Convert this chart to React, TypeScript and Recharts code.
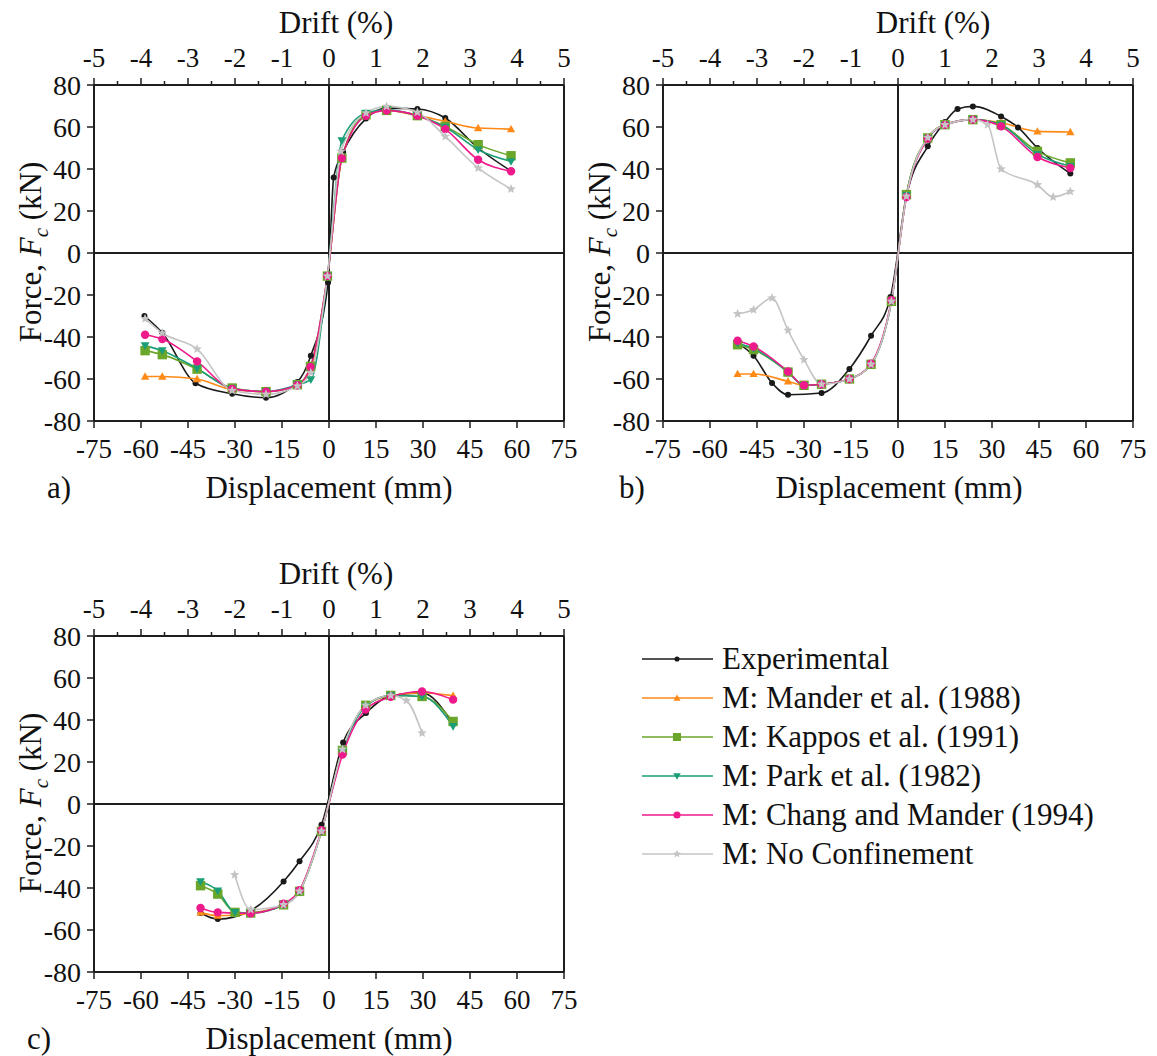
import React from 'react'
import { LineChart, Line, XAxis, YAxis, ReferenceLine } from 'recharts'

type Pt = [number, number]

// displacement (mm), force (kN)

// a)
const aExperimental: Pt[] = [[-58.9, -30], [-53.2, -38], [-42.6, -62], [-30.9, -67], [-20.1, -68.9], [-10.1, -61.4], [-5.8, -48.9], [-0.3, -14], [1.5, 36], [4.5, 48], [11.8, 64], [18.4, 69], [28.2, 68.6], [37.1, 64.3], [47.6, 50], [58.1, 39]]
const aMander: Pt[] = [[-58.7, -58.8], [-53.2, -58.8], [-42.1, -60], [-30.9, -65], [-20.1, -66], [-10.1, -63], [-5.8, -55], [-0.5, -11], [4.1, 45.2], [11.8, 65.8], [18.4, 67.9], [28.2, 65.4], [37.1, 62.7], [47.6, 59.5], [58.1, 59]]
const aKappos: Pt[] = [[-58.7, -46.5], [-53.2, -48.4], [-42.1, -55.3], [-30.9, -64.3], [-20.1, -66], [-10.1, -62.7], [-5.9, -54], [-0.5, -11], [4.1, 45.2], [11.8, 65.8], [18.4, 67.9], [28.2, 65.4], [37.1, 60.3], [47.6, 51.6], [58.1, 46.3]]
const aPark: Pt[] = [[-58.7, -44.1], [-53.2, -46.5], [-42.1, -55], [-30.9, -64.5], [-20.1, -66], [-10.1, -62.7], [-5.8, -60.3], [-0.5, -11], [4.1, 53.5], [11.8, 66.7], [18.4, 68.2], [28.2, 65.4], [37.1, 60], [47.6, 49.2], [58.1, 43.6]]
const aChang: Pt[] = [[-58.7, -38.9], [-53.2, -41], [-42.1, -51.6], [-30.9, -64.7], [-20.1, -66], [-10.1, -63], [-5.9, -54.3], [-0.5, -11], [4.1, 45.2], [11.8, 65.3], [18.4, 67.8], [28.2, 65.4], [37.1, 59], [47.6, 44.4], [58.1, 38.9]]
const aNoConf: Pt[] = [[-58.7, -31.3], [-53.2, -38.1], [-42.1, -45.7], [-30.9, -65.5], [-20.1, -67.3], [-10.1, -63.3], [-5.8, -57], [-0.5, -11], [3.8, 48.4], [11.8, 66.7], [18.4, 69.8], [28.2, 67], [37.1, 55.5], [47.6, 40.5], [58.1, 30.5]]

// b)
const bExperimental: Pt[] = [[-51.2, -42.9], [-46.1, -48.9], [-40.2, -61.9], [-35.1, -67.5], [-24.4, -66.7], [-15.5, -55.2], [-8.6, -39.4], [-2.4, -21], [2.7, 27], [9.5, 50.8], [15, 62.4], [19, 68.6], [23.9, 69.8], [32.9, 65], [38.3, 59.8], [44.5, 50], [55, 37.8]]
const bMander: Pt[] = [[-51.2, -57.6], [-46.1, -57.6], [-35.1, -61.1], [-30, -63], [-24.4, -62.5], [-15.5, -60], [-8.6, -52.7], [-2.1, -23], [2.7, 27.8], [9.5, 54.8], [15, 61.1], [23.9, 63.5], [32.9, 62], [44.5, 57.9], [55, 57.6]]
const bKappos: Pt[] = [[-51.2, -43.7], [-46.1, -46], [-35.1, -56.7], [-30, -63], [-24.4, -62.5], [-15.5, -60], [-8.6, -53], [-2.1, -23], [2.7, 27.8], [9.5, 54.8], [15, 61.1], [23.9, 63.5], [32.9, 61.1], [44.5, 48.4], [55, 42.9]]
const bPark: Pt[] = [[-51.2, -43], [-46.1, -45.5], [-35.1, -56.7], [-30, -63], [-24.4, -62.5], [-15.5, -60], [-8.6, -53], [-2.1, -23], [2.7, 27.5], [9.5, 54.6], [15, 61], [23.9, 63.5], [32.9, 61], [44.5, 47], [55, 41.3]]
const bChang: Pt[] = [[-51.2, -41.8], [-46.1, -44.5], [-35.1, -56.4], [-30, -63], [-24.4, -62.5], [-15.5, -60], [-8.6, -52.7], [-2.1, -22.5], [2.7, 26.7], [9.5, 54.5], [15, 61], [23.9, 63.5], [32.9, 60.3], [44.5, 45.7], [55, 40.5]]
const bNoConf: Pt[] = [[-51.2, -29], [-46.1, -27], [-40.2, -21.4], [-35.1, -36.8], [-30, -50.8], [-24.4, -62.5], [-15.5, -60], [-8.6, -53], [-2.1, -23], [2.7, 27], [9.5, 55], [15, 61], [23.9, 63.5], [28.6, 61.1], [32.9, 40], [44.5, 32.5], [49.5, 26.7], [55, 29.3]]

// c)
const cExperimental: Pt[] = [[-41, -51.9], [-35.5, -54.8], [-25, -50.7], [-14.5, -36.9], [-9.4, -27.3], [-2.4, -9.9], [4.5, 29.3], [11.8, 43.3], [19.7, 51.5], [29.7, 52.9], [39.4, 38.6]]
const cMander: Pt[] = [[-41, -51.6], [-35.5, -53.2], [-25, -52], [-14.5, -48], [-9.4, -41.6], [-2.4, -13], [4.3, 25.5], [11.7, 47], [19.7, 51.7], [29.7, 53], [39.6, 51.6]]
const cKappos: Pt[] = [[-41, -38.9], [-35.5, -42.9], [-30, -51.6], [-25, -51.9], [-14.5, -48], [-9.4, -41.6], [-2.4, -13], [4.3, 25.5], [11.7, 47], [19.7, 51.7], [29.7, 51.2], [39.6, 39.3]]
const cPark: Pt[] = [[-41, -36.9], [-35.5, -41.3], [-30, -51.6], [-25, -51.9], [-14.5, -48], [-9.4, -41.6], [-2.4, -13], [4.3, 25], [11.7, 46.5], [19.7, 51.7], [29.7, 51.2], [39.6, 37]]
const cChang: Pt[] = [[-41, -49.5], [-35.5, -51.6], [-25, -52], [-14.5, -47.5], [-9.4, -41], [-2.4, -12.5], [4.3, 23.5], [11.7, 45], [19.7, 51], [29.7, 53.6], [39.6, 49.7]]
const cNoConf: Pt[] = [[-30.1, -33.7], [-25, -50.3], [-14.5, -48], [-9.4, -41.6], [-2.4, -13], [4.3, 26], [11.7, 47], [19.7, 51.7], [24.7, 49.3], [29.7, 33.8]]

const DISP_TICKS = [-75, -60, -45, -30, -15, 0, 15, 30, 45, 60, 75]
const DRIFT_TICKS = [-5, -4.5, -4, -3.5, -3, -2.5, -2, -1.5, -1, -0.5, 0, 0.5, 1, 1.5, 2, 2.5, 3, 3.5, 4, 4.5, 5]
const FORCE_TICKS = [-80, -60, -40, -20, 0, 20, 40, 60, 80]
const MM_PER_DRIFT = 15 // 1 % drift = 15 mm

const SERIES_NAMES = [
  'Experimental',
  'M: Mander et al. (1988)',
  'M: Kappos et al. (1991)',
  'M: Park et al. (1982)',
  'M: Chang and Mander (1994)',
  'M: No Confinement',
]

const COLORS = ['#1a1a1a', '#ff8a18', '#6aa62a', '#1b9e77', '#ee1a8c', '#c4c4c4']
const SHAPES = ['dot', 'tri', 'square', 'triDown', 'hex', 'star']

const INK = '#1e1e1e'
const FONT = "'Liberation Serif', 'Times New Roman', serif"
const TXT = { fontFamily: FONT, fill: '#111' }
const PLOT_TOP = 85

function Marker({ shape, cx, cy, color, s = 1 }: { shape: string; cx: number; cy: number; color: string; s?: number }) {
  if (cx == null || cy == null) return null
  switch (shape) {
    case 'dot':
      return <circle cx={cx} cy={cy} r={3 * s} fill={color} />
    case 'tri': {
      const h = 4.2 * s
      return <polygon points={`${cx},${cy - h} ${cx - h},${cy + h * 0.75} ${cx + h},${cy + h * 0.75}`} fill={color} />
    }
    case 'triDown': {
      const h = 4.4 * s
      return <polygon points={`${cx},${cy + h} ${cx - h},${cy - h * 0.75} ${cx + h},${cy - h * 0.75}`} fill={color} />
    }
    case 'square':
      return <rect x={cx - 4.7 * s} y={cy - 4.7 * s} width={9.4 * s} height={9.4 * s} fill={color} />
    case 'hex':
      return <circle cx={cx} cy={cy} r={4.2 * s} fill={color} />
    case 'star': {
      const pts: string[] = []
      for (let i = 0; i < 10; i++) {
        const r = (i % 2 === 0 ? 5 : 2.2) * s
        const a = -Math.PI / 2 + (i * Math.PI) / 5
        pts.push(`${cx + r * Math.cos(a)},${cy + r * Math.sin(a)}`)
      }
      return <polygon points={pts.join(' ')} fill={color} />
    }
    default:
      return null
  }
}

const DriftTick = (props: any) => {
  const { x, payload } = props
  const v = payload.value
  const major = Number.isInteger(v)
  return (
    <g>
      <line x1={x} x2={x} y1={PLOT_TOP} y2={PLOT_TOP - (major ? 7 : 4)} stroke={INK} strokeWidth={1.5} />
      {major && (
        <text x={x} y={PLOT_TOP - 27} dy="0.35em" textAnchor="middle" fontSize={27} style={TXT}>
          {v}
        </text>
      )}
    </g>
  )
}

const DispTick = (props: any) => (
  <text x={props.x} y={props.y} dy="0.71em" textAnchor="middle" fontSize={27} style={TXT}>
    {props.payload.value}
  </text>
)

const ForceTick = (props: any) => (
  <text x={props.x} y={props.y} dy="0.35em" textAnchor="end" fontSize={28} style={TXT}>
    {props.payload.value}
  </text>
)

function Panel({ left, top, series }: { left: number; top: number; series: Pt[][] }) {
  // experimental curve expressed in drift, only to give the top axis a series of its own
  const driftData = series[0].map(([x, y]) => ({ d: x / MM_PER_DRIFT, y }))
  return (
    <div style={{ position: 'absolute', left, top }}>
      <LineChart width={580} height={480} margin={{ top: 40, right: 16, bottom: 9, left: 34 }}>
        <XAxis
          xAxisId="drift"
          dataKey="d"
          orientation="top"
          type="number"
          domain={[-5, 5]}
          allowDataOverflow
          ticks={DRIFT_TICKS}
          interval={0}
          height={45}
          axisLine={{ stroke: INK, strokeWidth: 2 }}
          tickLine={false}
          tick={(p: any) => <DriftTick {...p} />}
        />
        <XAxis
          xAxisId="disp"
          dataKey="x"
          type="number"
          domain={[-75, 75]}
          allowDataOverflow
          ticks={DISP_TICKS}
          interval={0}
          height={50}
          tickSize={7}
          tickMargin={11}
          axisLine={{ stroke: INK, strokeWidth: 2 }}
          tickLine={{ stroke: INK, strokeWidth: 1.5 }}
          tick={(p: any) => <DispTick {...p} />}
        />
        <YAxis
          type="number"
          domain={[-80, 80]}
          allowDataOverflow
          ticks={FORCE_TICKS}
          interval={0}
          width={60}
          tickSize={7}
          tickMargin={6}
          axisLine={{ stroke: INK, strokeWidth: 2 }}
          tickLine={{ stroke: INK, strokeWidth: 1.5 }}
          tick={(p: any) => <ForceTick {...p} />}
        />
        <ReferenceLine xAxisId="disp" x={75} stroke={INK} strokeWidth={2} />
        <ReferenceLine xAxisId="disp" x={0} stroke={INK} strokeWidth={2} />
        <ReferenceLine xAxisId="disp" y={0} stroke={INK} strokeWidth={2} />
        <Line
          xAxisId="drift"
          data={driftData}
          dataKey="y"
          stroke="none"
          dot={false}
          activeDot={false}
          legendType="none"
          isAnimationActive={false}
        />
        {series.map((pts, i) => (
          <Line
            key={SERIES_NAMES[i]}
            xAxisId="disp"
            data={pts.map(([x, y]) => ({ x, y }))}
            dataKey="y"
            type="monotone"
            stroke={COLORS[i]}
            strokeWidth={1.6}
            isAnimationActive={false}
            activeDot={false}
            dot={(p: any) => <Marker key={`m-${i}-${p.index}`} shape={SHAPES[i]} cx={p.cx} cy={p.cy} color={COLORS[i]} />}
          />
        ))}
      </LineChart>
    </div>
  )
}

function YTitle({ x, y }: { x: number; y: number }) {
  return (
    <text transform={`translate(${x}, ${y}) rotate(-90)`} textAnchor="middle" fontSize={31} fill="#111">
      Force,{' '}
      <tspan fontStyle="italic">F</tspan>
      <tspan fontStyle="italic" fontSize={21} dy={7}>c</tspan>
      <tspan dy={-7}> (kN)</tspan>
    </text>
  )
}

function Titles({ left, top, tag, tagX, dispX, driftX }: { left: number; top: number; tag: string; tagX: number; dispX: number; driftX: number }) {
  return (
    <g transform={`translate(${left}, ${top})`}>
      <text x={driftX} y={22} dy="0.35em" textAnchor="middle" fontSize={31} fill="#111">Drift (%)</text>
      <text x={dispX} y={487} dy="0.35em" textAnchor="middle" fontSize={31} fill="#111">Displacement (mm)</text>
      <text x={tagX} y={487} dy="0.35em" textAnchor="start" fontSize={31} fill="#111">{tag}</text>
      <YTitle x={41} y={252} />
    </g>
  )
}

export default function App() {
  return (
    <div style={{ position: 'absolute', left: 0, top: 0, width: 1157, height: 1056, background: '#fff', overflow: 'hidden', fontFamily: FONT }}>
      <Panel left={0} top={0} series={[aExperimental, aMander, aKappos, aPark, aChang, aNoConf]} />
      <Panel left={569} top={0} series={[bExperimental, bMander, bKappos, bPark, bChang, bNoConf]} />
      <Panel left={0} top={551} series={[cExperimental, cMander, cKappos, cPark, cChang, cNoConf]} />
      <svg width={1157} height={1056} style={{ position: 'absolute', left: 0, top: 0, pointerEvents: 'none', fontFamily: FONT }}>
        <Titles left={0} top={0} tag="a)" tagX={47} dispX={329} driftX={336} />
        <Titles left={569} top={0} tag="b)" tagX={50} dispX={330} driftX={364} />
        <Titles left={0} top={551} tag="c)" tagX={27} dispX={329} driftX={336} />
        {SERIES_NAMES.map((name, i) => {
          const y = 659 + i * 39
          return (
            <g key={name}>
              <line x1={642} x2={713} y1={y} y2={y} stroke={COLORS[i]} strokeWidth={1.6} />
              <Marker shape={SHAPES[i]} cx={677} cy={y} color={COLORS[i]} s={0.85} />
              <text x={722} y={y} dy="0.33em" fontSize={31} fill="#111">{name}</text>
            </g>
          )
        })}
      </svg>
    </div>
  )
}
